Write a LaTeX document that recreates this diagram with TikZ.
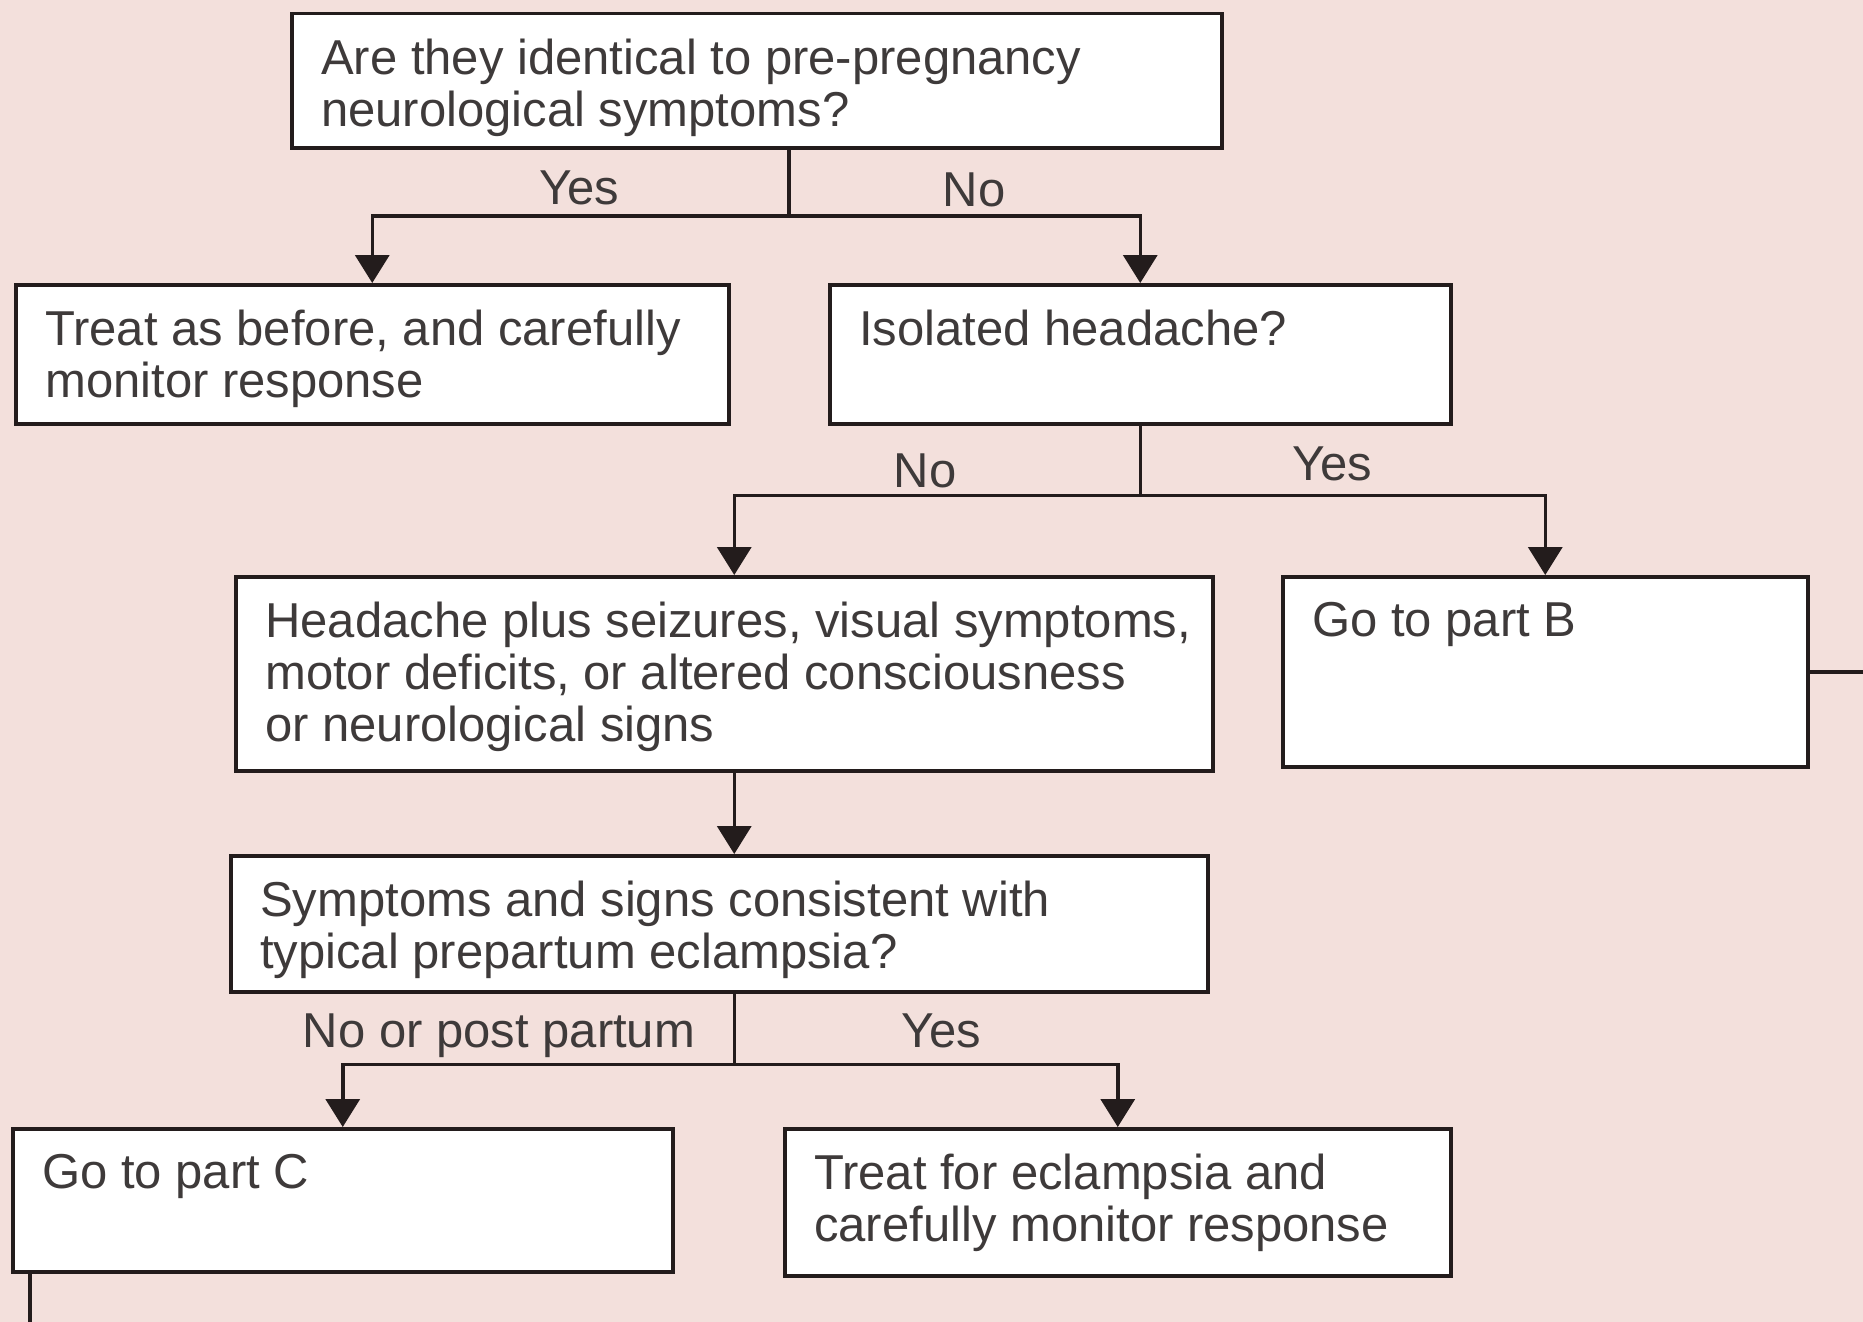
\documentclass[tikz,border=0pt]{standalone}
\usepackage{fontspec}
\setmainfont{Liberation Sans}
\usetikzlibrary{positioning,calc,arrows.meta}
\definecolor{bgpink}{RGB}{243,224,220}
\definecolor{lncol}{RGB}{35,28,28}
\definecolor{txtcol}{RGB}{62,58,58}

\begin{document}
\begin{tikzpicture}[
    x=1pt, y=-1pt,
    box/.style 2 args={rectangle, draw=lncol, fill=white, line width=3.5pt,
                anchor=north west, minimum width=#1, minimum height=#2,
                inner sep=0pt, label distance=0pt},
    boxtxt/.style={anchor=north west, inner xsep=31pt, inner ysep=27pt,
                align=left, text=txtcol, font=\fontsize{49}{52}\selectfont},
    conn/.style={draw=lncol, line width=3.5pt},
    arr/.style={conn, -{Triangle[width=34pt, length=28pt]}},
    lbl/.style={anchor=base, text=txtcol, font=\fontsize{49}{52}\selectfont}
]

% Background and page size
\fill[bgpink] (0,0) rectangle (1863,1322);
\useasboundingbox (0,0) rectangle (1863,1322);

% Question boxes and outcomes (top to bottom)
\node[box={930pt}{134pt}, label={[boxtxt]north west:Are they identical to pre-pregnancy\\neurological symptoms?}] (ident) at (290,12) {};
\node[box={713pt}{139pt}, label={[boxtxt]north west:Treat as before, and carefully\\monitor response}] (before) at (14,283) {};
\node[box={621pt}{139pt}, label={[boxtxt]north west:Isolated headache?}] (isol) at (828,283) {};
\node[box={977pt}{194pt}, label={[boxtxt]north west:Headache plus seizures, visual symptoms,\\motor deficits, or altered consciousness\\or neurological signs}] (plus) at (234,575) {};
\node[box={525pt}{190pt}, label={[boxtxt]north west:Go to part B}] (partB) at (1281,575) {};
\node[box={977pt}{136pt}, label={[boxtxt]north west:Symptoms and signs consistent with\\typical prepartum eclampsia?}] (eclq) at (229,854) {};
\node[box={660pt}{143pt}, label={[boxtxt]north west:Go to part C}] (partC) at (11,1127) {};
\node[box={666pt}{147pt}, label={[boxtxt]north west:Treat for eclampsia and\\carefully monitor response}] (treat) at (783,1127) {};

% Branch points and free ends
\coordinate (j1) at (789,216);
\coordinate (j2) at ($(isol.south)+(0,70)$);
\coordinate (j3) at ($([xshift=10pt]plus.south |- eclq.south)+(0,71)$);
\coordinate (edgeR) at (1863,0);
\coordinate (edgeB) at (0,1322);

% Branch labels
\node[lbl] (yes1) at (579,204) {Yes};
\node[lbl] (no1) at (974,206) {No};
\node[lbl] (no2) at (925,487) {No};
\node[lbl] (yes2) at (1332,480) {Yes};
\node[lbl] (no3) at (499,1047) {No or post partum};
\node[lbl] (yes3) at (941,1047) {Yes};

% Connectors
\draw[conn] (j1 |- ident.south) -- (j1);
\draw[arr] (j1) -| (before.north);
\draw[arr] (j1) -| (isol.north);
\draw[conn] (isol.south) -- (j2);
\draw[arr] (j2) -| ([xshift=10pt]plus.north);
\draw[arr] (j2) -| (partB.north);
\draw[arr] ([xshift=10pt]plus.south) -- ([xshift=10pt]plus.south |- eclq.north);
\draw[conn] (j3 |- eclq.south) -- (j3);
\draw[arr] (j3) -| (partC.north);
\draw[arr] (j3) -| (treat.north);
\draw[conn] (partB.east) -- (partB.east -| edgeR);
\draw[conn] ([xshift=19pt]partC.south west) -- ([xshift=19pt]partC.south west |- edgeB);

\end{tikzpicture}
\end{document}
